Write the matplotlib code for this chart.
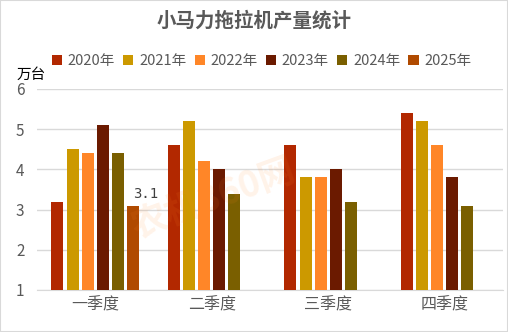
import numpy as np
import matplotlib
matplotlib.use("Agg")
import matplotlib.pyplot as plt
from matplotlib.patches import Rectangle

plt.rcParams['font.family'] = ['Noto Sans CJK SC', 'DejaVu Sans']

categories = ["一季度", "二季度", "三季度", "四季度"]
series_names = ["2020年", "2021年", "2022年", "2023年", "2024年", "2025年"]
values_2020 = [3.2, 4.6, 4.6, 5.4]
values_2021 = [4.5, 5.2, 3.8, 5.2]
values_2022 = [4.4, 4.2, 3.8, 4.6]
values_2023 = [5.1, 4.0, 4.0, 3.8]
values_2024 = [4.4, 3.4, 3.2, 3.1]
values_2025 = [3.1, np.nan, np.nan, np.nan]
colors = ["#B22800", "#CC9900", "#FF8628", "#6B1A00", "#7A5F00", "#B04A00"]

all_values = [values_2020, values_2021, values_2022, values_2023, values_2024, values_2025]

fig = plt.figure(figsize=(5.08, 3.32), dpi=100)
ax = fig.add_axes([37/508, 1 - 290/332, 466/508, 201/332])

x = np.arange(len(categories))
pitch = 0.13
width = 0.103
n = len(series_names)
for i, (name, vals, c) in enumerate(zip(series_names, all_values, colors)):
    offs = (i - (n - 1) / 2) * pitch
    ax.bar(x + offs, vals, width=width, bottom=0, color=c, label=name, zorder=3)
    if name == "2025年":
        for xi, v in zip(x + offs, vals):
            if not np.isnan(v):
                ax.annotate(f"{v}", (xi, v), xytext=(9, 3), textcoords="offset points",
                            ha="center", va="bottom", fontsize=10, color="#404040",
                            family=["DejaVu Sans Mono"], zorder=4)

ax.set_ylim(1, 6)
ax.set_xlim(-0.5, 3.5)
ax.set_yticks([1, 2, 3, 4, 5, 6])
ax.set_xticks(x)
ax.set_xticklabels(categories, fontsize=11.5, color="#595959")
ax.tick_params(axis='y', labelsize=11, colors="#595959", length=0, pad=9)
ax.tick_params(axis='x', length=0, pad=5)
ax.grid(axis='y', color="#D9D9D9", linewidth=1, zorder=0)
for s in ["top", "right", "left"]:
    ax.spines[s].set_visible(False)
ax.spines["bottom"].set_color("#D9D9D9")
ax.spines["bottom"].set_zorder(1)

# watermark
fig.text(0.42, 0.40, "农机360网", fontsize=26, color="#FF8628", alpha=0.1,
         rotation=20, ha="center", va="center", weight="bold", zorder=0)

fig.text(0.5, 1 - 21/332, "小马力拖拉机产量统计", ha="center", va="center",
         fontsize=14, weight="bold", color="#595959")
fig.text(17/508, 1 - 75/332, "万台", ha="left", va="center", fontsize=10.5, color="#000000")

leg = fig.legend(loc="center", bbox_to_anchor=(0.515, 1 - 61/332), ncol=6, frameon=False,
                 fontsize=10.5, handlelength=0.7, handleheight=0.7, handletextpad=0.4,
                 columnspacing=0.55)
for t in leg.get_texts():
    t.set_color("#595959")

fig.patches.append(Rectangle((0, 0), 1, 1, transform=fig.transFigure, fill=False,
                             edgecolor="#D9D9D9", linewidth=1.5))

fig.savefig("out.png", dpi=100)
